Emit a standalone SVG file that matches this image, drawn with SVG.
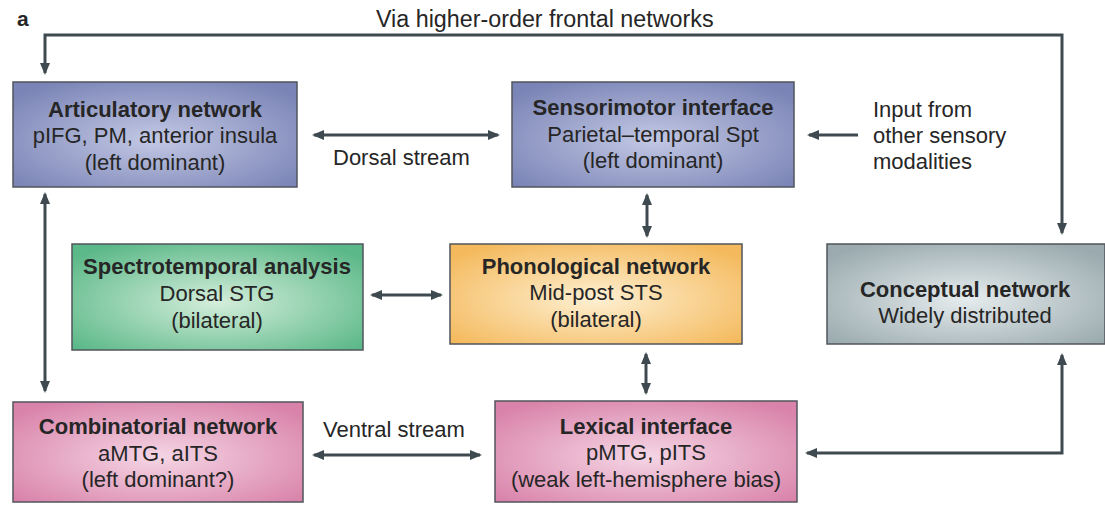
<svg xmlns="http://www.w3.org/2000/svg" width="1105" height="505" viewBox="0 0 1105 505">
<defs>
<style>
.box{stroke:#50565c;stroke-width:1.5}
.t{font-family:"Liberation Sans",Arial,sans-serif;font-size:22px;fill:#262626;text-anchor:middle}
.b{font-weight:bold}
.lbl{font-family:"Liberation Sans",Arial,sans-serif;font-size:22px;fill:#262626}
.c{fill:none;stroke:#3e4a50;stroke-width:3}
</style>
<marker id="ah" viewBox="0 0 12 10" refX="10" refY="5" markerWidth="12" markerHeight="10" markerUnits="userSpaceOnUse" orient="auto-start-reverse">
<path d="M0,0 L12,5 L0,10 z" fill="#3e4a50"/>
</marker>
<radialGradient id="gBlue" cx="50%" cy="55%" r="65%">
<stop offset="0" stop-color="#c3c8e4"/><stop offset="1" stop-color="#7a84b6"/>
</radialGradient>
<radialGradient id="gGreen" cx="50%" cy="55%" r="65%">
<stop offset="0" stop-color="#d4eedb"/><stop offset="1" stop-color="#5bb888"/>
</radialGradient>
<radialGradient id="gOrange" cx="50%" cy="55%" r="65%">
<stop offset="0" stop-color="#fef0d2"/><stop offset="1" stop-color="#f4b95c"/>
</radialGradient>
<radialGradient id="gGrey" cx="50%" cy="55%" r="65%">
<stop offset="0" stop-color="#e6ecee"/><stop offset="1" stop-color="#9aaaae"/>
</radialGradient>
<radialGradient id="gPink" cx="50%" cy="55%" r="65%">
<stop offset="0" stop-color="#f5d6e5"/><stop offset="1" stop-color="#d983aa"/>
</radialGradient>
</defs>
<rect width="1105" height="505" fill="#ffffff"/>
<text x="17" y="26" class="lbl" style="font-size:21px;font-weight:bold">a</text>
<text x="376" y="27" class="lbl" style="font-size:23.3px">Via higher-order frontal networks</text>
<text x="333" y="165" class="lbl">Dorsal stream</text>
<text x="323" y="437" class="lbl">Ventral stream</text>
<text class="lbl"><tspan x="873" y="117">Input from</tspan><tspan x="873" y="143">other sensory</tspan><tspan x="873" y="169">modalities</tspan></text>

<g id="connectors">
<path class="c" d="M1062,233 L1062,35 L45,35 L45,73" marker-start="url(#ah)" marker-end="url(#ah)"/>
<line class="c" x1="45" y1="194" x2="45" y2="391" marker-start="url(#ah)" marker-end="url(#ah)"/>
<line class="c" x1="314" y1="135" x2="498" y2="135" marker-start="url(#ah)" marker-end="url(#ah)"/>
<line class="c" x1="858" y1="135" x2="809" y2="135" marker-end="url(#ah)"/>
<line class="c" x1="647" y1="195" x2="647" y2="236" marker-start="url(#ah)" marker-end="url(#ah)"/>
<line class="c" x1="372" y1="295" x2="441" y2="295" marker-start="url(#ah)" marker-end="url(#ah)"/>
<line class="c" x1="646" y1="354" x2="646" y2="393" marker-start="url(#ah)" marker-end="url(#ah)"/>
<line class="c" x1="314" y1="455" x2="480" y2="455" marker-start="url(#ah)" marker-end="url(#ah)"/>
<path class="c" d="M1062,355 L1062,453 L807,453" marker-start="url(#ah)" marker-end="url(#ah)"/>
</g>

<g id="articulatory">
<rect class="box" x="13" y="82" width="284" height="105" fill="url(#gBlue)"/>
<text class="t b" x="155" y="117">Articulatory network</text>
<text class="t" x="155" y="143">pIFG, PM, anterior insula</text>
<text class="t" x="155" y="170">(left dominant)</text>
</g>
<g id="sensorimotor">
<rect class="box" x="512" y="82" width="282" height="105" fill="url(#gBlue)"/>
<text class="t b" x="653" y="115">Sensorimotor interface</text>
<text class="t" x="653" y="142">Parietal–temporal Spt</text>
<text class="t" x="653" y="168">(left dominant)</text>
</g>
<g id="spectrotemporal">
<rect class="box" x="72" y="244" width="291" height="106" fill="url(#gGreen)"/>
<text class="t b" x="217" y="274">Spectrotemporal analysis</text>
<text class="t" x="217" y="301">Dorsal STG</text>
<text class="t" x="217" y="328">(bilateral)</text>
</g>
<g id="phonological">
<rect class="box" x="450" y="244" width="292" height="100" fill="url(#gOrange)"/>
<text class="t b" x="596" y="274">Phonological network</text>
<text class="t" x="596" y="300">Mid-post STS</text>
<text class="t" x="596" y="327">(bilateral)</text>
</g>
<g id="conceptual">
<rect class="box" x="827" y="244" width="278" height="100" fill="url(#gGrey)"/>
<text class="t b" x="965" y="297">Conceptual network</text>
<text class="t" x="965" y="323">Widely distributed</text>
</g>
<g id="combinatorial">
<rect class="box" x="13" y="402" width="290" height="100" fill="url(#gPink)"/>
<text class="t b" x="158" y="434">Combinatorial network</text>
<text class="t" x="158" y="461">aMTG, aITS</text>
<text class="t" x="158" y="487">(left dominant?)</text>
</g>
<g id="lexical">
<rect class="box" x="495" y="401" width="302" height="101" fill="url(#gPink)"/>
<text class="t b" x="646" y="434">Lexical interface</text>
<text class="t" x="646" y="460">pMTG, pITS</text>
<text class="t" x="646" y="487">(weak left-hemisphere bias)</text>
</g>
</svg>
